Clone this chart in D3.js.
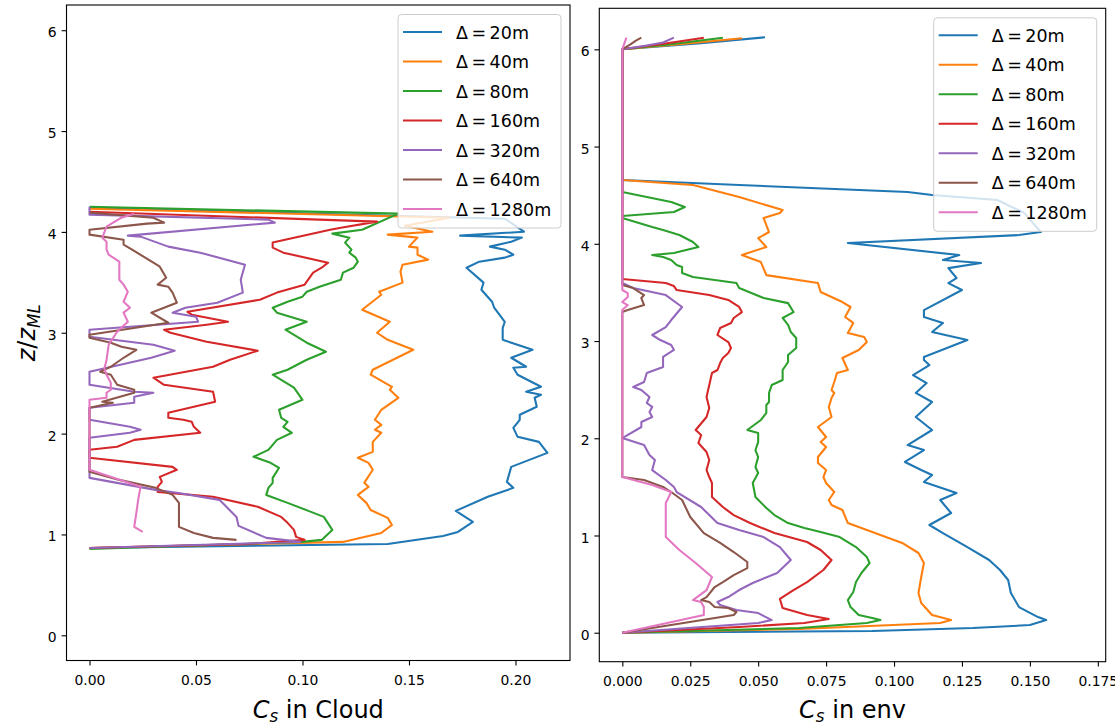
<!DOCTYPE html>
<html>
<head>
<meta charset="utf-8">
<script src="https://cdn.jsdelivr.net/npm/d3@7"></script>
<style>
  html, body { margin: 0; padding: 0; background: #fff; }
  svg { display: block; }
  text { font-family: "DejaVu Sans", sans-serif; fill: #000; }
</style>
</head>
<body>
<svg id="chart" width="1115" height="726"></svg>
<script>
// ---------------- DATA ----------------
const labels = ["20m", "40m", "80m", "160m", "320m", "640m", "1280m"];
const colors = ["#1f77b4", "#ff7f0e", "#2ca02c", "#d62728", "#9467bd", "#8c564b", "#e377c2"];
const xTicksCloud = [0, 0.05, 0.10, 0.15, 0.20];
const xTicksEnv = [0, 0.025, 0.05, 0.075, 0.10, 0.125, 0.15, 0.175];
const zTicks = [0, 1, 2, 3, 4, 5, 6];

// each point: [C_s, z/z_ML]
const cloud20 = [[0,0.866],[0.140,0.906],[0.166,0.985],[0.173,1.025],[0.180,1.124],[0.172,1.234],[0.187,1.373],[0.199,1.462],[0.196,1.521],[0.198,1.670],[0.215,1.809],[0.211,1.918],[0.201,1.968],[0.199,2.057],[0.202,2.137],[0.202,2.187],[0.210,2.266],[0.209,2.356],[0.212,2.385],[0.205,2.415],[0.212,2.465],[0.201,2.584],[0.199,2.653],[0.205,2.663],[0.198,2.752],[0.208,2.831],[0.194,2.930],[0.194,3.049],[0.195,3.109],[0.190,3.248],[0.189,3.308],[0.184,3.427],[0.185,3.497],[0.177,3.645],[0.183,3.705],[0.195,3.745],[0.199,3.774],[0.195,3.824],[0.188,3.854],[0.198,3.903],[0.203,3.943],[0.174,3.963],[0.204,4.002],[0.195,4.131],[0,4.240]];
const cloud40 = [[0,0.866],[0.119,0.926],[0.137,1.015],[0.142,1.094],[0.140,1.164],[0.132,1.243],[0.130,1.313],[0.126,1.392],[0.131,1.472],[0.129,1.512],[0.133,1.641],[0.131,1.710],[0.126,1.760],[0.133,1.819],[0.133,1.918],[0.137,2.008],[0.134,2.038],[0.137,2.087],[0.134,2.137],[0.137,2.236],[0.145,2.355],[0.141,2.434],[0.142,2.464],[0.132,2.584],[0.133,2.633],[0.152,2.831],[0.140,2.930],[0.135,3.000],[0.141,3.109],[0.128,3.228],[0.137,3.377],[0.136,3.407],[0.147,3.497],[0.146,3.606],[0.147,3.675],[0.159,3.725],[0.154,3.774],[0.154,3.844],[0.150,3.854],[0.154,3.943],[0.140,3.973],[0.161,4.002],[0.148,4.062],[0.169,4.141],[0,4.230]];
const cloud80 = [[0,0.857],[0.100,0.926],[0.109,0.946],[0.114,1.045],[0.110,1.174],[0.104,1.224],[0.093,1.313],[0.083,1.392],[0.084,1.462],[0.086,1.512],[0.086,1.561],[0.089,1.661],[0.085,1.710],[0.077,1.770],[0.084,1.839],[0.088,1.938],[0.095,2.008],[0.091,2.067],[0.093,2.117],[0.090,2.157],[0.089,2.236],[0.100,2.335],[0.096,2.455],[0.086,2.584],[0.093,2.633],[0.102,2.732],[0.111,2.812],[0.102,2.901],[0.092,3.030],[0.102,3.109],[0.088,3.199],[0.086,3.248],[0.093,3.308],[0.100,3.358],[0.102,3.407],[0.108,3.457],[0.118,3.526],[0.119,3.596],[0.124,3.645],[0.126,3.705],[0.125,3.745],[0.122,3.794],[0.123,3.824],[0.120,3.894],[0.122,3.943],[0.114,3.983],[0.128,4.022],[0.145,4.181],[0,4.250]];
const cloud160 = [[0,0.866],[0.074,0.906],[0.101,0.946],[0.097,0.976],[0.096,1.045],[0.093,1.115],[0.090,1.174],[0.079,1.274],[0.058,1.373],[0.032,1.422],[0.032,1.472],[0.034,1.521],[0.033,1.571],[0.041,1.641],[0.039,1.670],[0,1.760],[0,1.839],[0.013,1.869],[0.021,1.938],[0.052,2.008],[0.049,2.067],[0.048,2.117],[0.044,2.137],[0.037,2.157],[0.037,2.206],[0.059,2.316],[0.058,2.415],[0.035,2.484],[0.030,2.554],[0.058,2.663],[0.066,2.732],[0.079,2.822],[0.055,2.911],[0.038,3.000],[0.035,3.030],[0.055,3.080],[0.065,3.109],[0.048,3.179],[0.046,3.208],[0.080,3.328],[0.088,3.398],[0.101,3.477],[0.105,3.596],[0.109,3.645],[0.112,3.695],[0.091,3.794],[0.086,3.844],[0.086,3.894],[0.113,4.022],[0.118,4.042],[0.135,4.102],[0,4.200]];
const cloud320 = [[0,0.866],[0.099,0.926],[0.083,0.966],[0.070,1.085],[0.069,1.174],[0.061,1.343],[0.041,1.413],[0.031,1.442],[0,1.561],[0,1.958],[0.019,2.008],[0.024,2.038],[0.019,2.067],[0,2.137],[0,2.256],[0.021,2.306],[0.021,2.366],[0.030,2.405],[0.021,2.415],[0,2.484],[0,2.614],[0.029,2.752],[0.040,2.822],[0.030,2.881],[0,2.961],[0,3.030],[0.051,3.109],[0.050,3.159],[0.039,3.199],[0.045,3.248],[0.060,3.298],[0.072,3.398],[0.071,3.526],[0.073,3.675],[0.052,3.794],[0.037,3.854],[0.024,3.953],[0.018,3.963],[0.087,4.092],[0.084,4.122],[0,4.171],[0,4.250]];
const cloud640 = [[0.069,0.946],[0.058,0.966],[0.049,1.015],[0.042,1.075],[0.042,1.214],[0.042,1.313],[0.039,1.392],[0.031,1.462],[0.014,1.541],[0,1.621],[0,2.256],[0.011,2.306],[0.006,2.316],[0.021,2.405],[0.021,2.435],[0.013,2.484],[0.010,2.584],[0.005,2.614],[0.010,2.663],[0.016,2.752],[0.022,2.831],[0.015,2.861],[0.010,2.901],[0,2.951],[0,2.980],[0.037,3.099],[0.029,3.199],[0.041,3.298],[0.039,3.398],[0.037,3.457],[0.032,3.477],[0.036,3.546],[0.033,3.655],[0.030,3.695],[0.020,3.824],[0.016,3.874],[0.016,3.923],[0,3.973],[0,4.022],[0.027,4.082],[0.035,4.092],[0.030,4.141],[0,4.191]];
const cloud1280 = [[0.025,1.025],[0.021,1.075],[0.022,1.214],[0.023,1.363],[0.024,1.472],[0,1.641],[0,2.335],[0.008,2.355],[0.008,2.405],[0.010,2.435],[0.010,2.504],[0.008,2.584],[0.007,2.643],[0.008,2.730],[0.009,2.881],[0.013,3.010],[0.018,3.109],[0.016,3.199],[0.019,3.248],[0.016,3.308],[0.018,3.407],[0.016,3.477],[0.014,3.526],[0.014,3.625],[0.014,3.705],[0.009,3.774],[0.008,3.824],[0.008,3.903],[0.006,3.943],[0.008,4.052],[0.015,4.141],[0.021,4.181]];

const env20 = [[0,0],[0.092,0.017],[0.129,0.048],[0.150,0.079],[0.156,0.130],[0.153,0.161],[0.146,0.264],[0.143,0.408],[0.142,0.542],[0.139,0.645],[0.135,0.748],[0.127,0.881],[0.118,1.025],[0.113,1.108],[0.121,1.231],[0.117,1.365],[0.123,1.437],[0.111,1.550],[0.114,1.622],[0.110,1.673],[0.104,1.756],[0.111,1.879],[0.105,1.930],[0.114,2.085],[0.108,2.219],[0.114,2.373],[0.108,2.466],[0.112,2.568],[0.107,2.650],[0.113,2.753],[0.111,2.805],[0.111,2.836],[0.127,3.010],[0.114,3.093],[0.118,3.186],[0.111,3.247],[0.111,3.318],[0.125,3.525],[0.120,3.596],[0.123,3.648],[0.120,3.750],[0.132,3.802],[0.118,3.833],[0.124,3.884],[0.083,4.008],[0.146,4.090],[0.154,4.121],[0.148,4.316],[0.138,4.450],[0.114,4.502],[0.105,4.533],[0.043,4.605],[0,4.656],[0,6.0],[0.029,6.062],[0.0525,6.124]];
const env40 = [[0,0],[0.065,0.038],[0.117,0.100],[0.121,0.130],[0.114,0.182],[0.110,0.305],[0.109,0.408],[0.110,0.573],[0.111,0.717],[0.109,0.820],[0.103,0.923],[0.098,0.974],[0.090,1.056],[0.083,1.128],[0.081,1.262],[0.077,1.313],[0.076,1.365],[0.078,1.447],[0.075,1.540],[0.074,1.601],[0.075,1.673],[0.072,1.745],[0.072,1.807],[0.075,1.910],[0.073,1.961],[0.075,2.013],[0.072,2.116],[0.077,2.219],[0.076,2.322],[0.077,2.414],[0.078,2.466],[0.077,2.496],[0.078,2.579],[0.079,2.671],[0.083,2.702],[0.081,2.825],[0.087,2.908],[0.090,2.990],[0.089,3.041],[0.083,3.082],[0.085,3.186],[0.082,3.247],[0.084,3.350],[0.081,3.401],[0.073,3.504],[0.072,3.596],[0.053,3.678],[0.051,3.812],[0.044,3.884],[0.053,3.967],[0.050,4.059],[0.054,4.121],[0.052,4.265],[0.058,4.316],[0.059,4.347],[0.043,4.481],[0.026,4.605],[0,4.656],[0,6.0],[0.021,6.052],[0.044,6.114]];
const env80 = [[0,0],[0.065,0.048],[0.090,0.100],[0.095,0.130],[0.092,0.151],[0.087,0.182],[0.084,0.264],[0.083,0.336],[0.085,0.419],[0.086,0.521],[0.088,0.614],[0.091,0.717],[0.090,0.778],[0.086,0.881],[0.080,0.984],[0.073,1.035],[0.067,1.077],[0.061,1.128],[0.056,1.210],[0.053,1.283],[0.049,1.396],[0.048,1.540],[0.050,1.643],[0.049,1.704],[0.050,1.807],[0.049,1.879],[0.050,1.961],[0.050,2.054],[0.046,2.085],[0.051,2.188],[0.053,2.260],[0.053,2.342],[0.054,2.373],[0.054,2.466],[0.055,2.548],[0.059,2.599],[0.059,2.702],[0.061,2.784],[0.061,2.856],[0.064,2.928],[0.064,3.031],[0.062,3.093],[0.061,3.165],[0.059,3.237],[0.063,3.298],[0.061,3.390],[0.052,3.442],[0.043,3.545],[0.042,3.596],[0.026,3.658],[0.022,3.699],[0.022,3.761],[0.020,3.781],[0.018,3.833],[0.015,3.864],[0.011,3.884],[0.019,3.905],[0.028,3.967],[0.026,4.018],[0.021,4.090],[0.015,4.141],[0.011,4.172],[0,4.265],[0,4.286],[0.019,4.327],[0.023,4.378],[0.018,4.430],[0,4.533],[0,6.0],[0.017,6.05],[0.037,6.12]];
const env160 = [[0,0],[0.043,0.058],[0.067,0.100],[0.076,0.141],[0.068,0.182],[0.059,0.254],[0.058,0.347],[0.063,0.439],[0.068,0.521],[0.074,0.645],[0.077,0.748],[0.073,0.851],[0.068,0.933],[0.056,1.025],[0.047,1.128],[0.041,1.210],[0.037,1.293],[0.033,1.396],[0.033,1.540],[0.032,1.601],[0.031,1.673],[0.032,1.776],[0.031,1.859],[0.028,1.951],[0.029,2.033],[0.027,2.085],[0.031,2.219],[0.032,2.311],[0.031,2.424],[0.032,2.548],[0.033,2.671],[0.035,2.702],[0.036,2.774],[0.037,2.825],[0.039,2.877],[0.040,2.928],[0.039,2.990],[0.035,3.062],[0.036,3.134],[0.040,3.186],[0.041,3.237],[0.044,3.298],[0.043,3.350],[0.039,3.422],[0.032,3.473],[0.020,3.524],[0.019,3.565],[0.016,3.596],[0,3.638],[0,6.0],[0.014,6.052],[0.030,6.12]];
const env320 = [[0,0],[0.050,0.100],[0.055,0.130],[0.050,0.202],[0.042,0.233],[0.036,0.285],[0.035,0.316],[0.039,0.367],[0.043,0.439],[0.048,0.511],[0.057,0.614],[0.062,0.748],[0.058,0.881],[0.052,0.984],[0.043,1.056],[0.035,1.128],[0.029,1.293],[0.020,1.447],[0.019,1.499],[0.016,1.571],[0.011,1.673],[0.012,1.776],[0.010,1.827],[0.008,1.930],[0,2.002],[0.007,2.116],[0.007,2.167],[0.011,2.219],[0.010,2.270],[0.011,2.322],[0.009,2.363],[0.010,2.424],[0.007,2.496],[0.004,2.527],[0.008,2.579],[0.009,2.671],[0.015,2.733],[0.015,2.836],[0.019,2.908],[0.018,2.959],[0.014,3.010],[0.011,3.062],[0.016,3.144],[0.018,3.216],[0.022,3.350],[0.016,3.473],[0.004,3.545],[0,3.597],[0,6.0],[0.009,6.04],[0.015,6.07],[0.019,6.12]];
const env640 = [[0,0],[0.041,0.182],[0.042,0.213],[0.039,0.254],[0.034,0.264],[0.032,0.316],[0.029,0.336],[0.031,0.367],[0.034,0.470],[0.037,0.521],[0.041,0.593],[0.046,0.665],[0.046,0.727],[0.041,0.830],[0.036,0.923],[0.030,1.025],[0.025,1.190],[0.022,1.365],[0.018,1.447],[0.015,1.499],[0.008,1.571],[0,1.601],[0,3.298],[0.002,3.319],[0.008,3.370],[0.007,3.442],[0.008,3.473],[0.004,3.545],[0,3.576],[0,6.0],[0.003,6.05],[0.005,6.09],[0.007,6.12]];
const env1280 = [[0,0],[0.030,0.182],[0.030,0.264],[0.029,0.316],[0.026,0.336],[0.031,0.439],[0.033,0.573],[0.027,0.717],[0.021,0.851],[0.016,0.984],[0.016,1.128],[0.016,1.334],[0.018,1.447],[0.011,1.519],[0,1.601],[0,3.319],[0.002,3.370],[0,3.401],[0.002,3.452],[0.002,3.493],[0,3.525],[0,6.0],[0.0015,6.12]];

const cloudSeries = [cloud20, cloud40, cloud80, cloud160, cloud320, cloud640, cloud1280];
const envSeries = [env20, env40, env80, env160, env320, env640, env1280];

// ---------------- DRAW ----------------
const svg = d3.select("#chart");
svg.append("rect").attr("width", 1115).attr("height", 726).attr("fill", "#fff");

const panels = [
  { series: cloudSeries, x: d3.scaleLinear().domain([-0.0108, 0.2256]).range([66.5, 570]),
    y: d3.scaleLinear().domain([-0.25, 6.25]).range([660.5, 5]),
    xticks: xTicksCloud, fmt: d3.format(".2f"), xlabel: " in Cloud", ylabel: true },
  { series: envSeries, x: d3.scaleLinear().domain([-0.00847, 0.1779]).range([599.3, 1105.7]),
    y: d3.scaleLinear().domain([-0.298, 6.422]).range([661.7, 8.3]),
    xticks: xTicksEnv, fmt: d3.format(".3f"), xlabel: " in env", ylabel: false }
];

panels.forEach(p => {
  const [x0, x1] = p.x.range();
  const [y1, y0] = p.y.range();
  const g = svg.append("g");

  const clipId = "clip" + Math.round(x0);
  svg.append("clipPath").attr("id", clipId).append("rect")
    .attr("x", x0).attr("y", y0).attr("width", x1 - x0).attr("height", y1 - y0);

  const line = d3.line().x(d => p.x(d[0])).y(d => p.y(d[1]));
  const lg = g.append("g").attr("clip-path", `url(#${clipId})`);
  p.series.forEach((s, i) => {
    lg.append("path").attr("d", line(s)).attr("fill", "none")
      .attr("stroke", colors[i]).attr("stroke-width", 2.08)
      .attr("stroke-linejoin", "round").attr("stroke-linecap", "butt");
  });

  // axes
  const ax = g.append("g").attr("transform", `translate(0,${y1})`)
    .call(d3.axisBottom(p.x).tickValues(p.xticks).tickFormat(p.fmt).tickSize(4.9).tickSizeOuter(0));
  ax.select(".domain").remove();
  ax.selectAll("line").attr("stroke", "#000").attr("stroke-width", 1.1);
  ax.selectAll("text").attr("y", 24.5).attr("dy", null)
    .style("font-family", "DejaVu Sans").style("font-size", "13.9px").attr("fill", "#000");

  const ay = g.append("g").attr("transform", `translate(${x0},0)`)
    .call(d3.axisLeft(p.y).tickValues(zTicks).tickFormat(d3.format("d")).tickSize(4.9).tickPadding(4.9).tickSizeOuter(0));
  ay.select(".domain").remove();
  ay.selectAll("line").attr("stroke", "#000").attr("stroke-width", 1.1);
  ay.selectAll("text").attr("dy", "0.47em")
    .style("font-family", "DejaVu Sans").style("font-size", "13.9px").attr("fill", "#000");

  // frame
  g.append("rect").attr("x", x0).attr("y", y0).attr("width", x1 - x0).attr("height", y1 - y0)
    .attr("fill", "none").attr("stroke", "#000").attr("stroke-width", 1.1);

  // x label
  const xl = g.append("text").attr("x", (x0 + x1) / 2).attr("y", 718)
    .attr("text-anchor", "middle").style("font-size", "24px");
  xl.append("tspan").style("font-style", "italic").text("C");
  xl.append("tspan").style("font-style", "italic").style("font-size", "16.8px").attr("dy", 3.5).text("s");
  xl.append("tspan").attr("dy", -3.5).text(p.xlabel);

  if (p.ylabel) {
    const yl = g.append("text").attr("transform", `translate(35,${(y0 + y1) / 2}) rotate(-90)`)
      .attr("text-anchor", "middle").style("font-size", "24px");
    yl.append("tspan").style("font-style", "italic").text("z");
    yl.append("tspan").text("/");
    yl.append("tspan").style("font-style", "italic").text("z");
    yl.append("tspan").style("font-style", "italic").style("font-size", "16.8px").attr("dy", 5).text("ML");
  }

  // legend
  const lw = 163, lh = 213.5;
  const lx = x1 - 9 - lw, ly = y0 + 9.5;
  const leg = g.append("g");
  leg.append("rect").attr("x", lx).attr("y", ly).attr("width", lw).attr("height", lh)
    .attr("rx", 3.5).attr("ry", 3.5).attr("fill", "#fff").attr("fill-opacity", 0.8)
    .attr("stroke", "#cccccc").attr("stroke-width", 1);
  labels.forEach((lab, i) => {
    const ry = ly + 17.5 + i * 29.5;
    leg.append("line").attr("x1", lx + 5).attr("x2", lx + 44).attr("y1", ry).attr("y2", ry)
      .attr("stroke", colors[i]).attr("stroke-width", 2.08);
    leg.append("text").attr("x", lx + 58).attr("y", ry + 6.5).style("font-size", "17.5px")
      .text("Δ\u2009=\u2009" + lab);
  });
});
</script>
</body>
</html>
